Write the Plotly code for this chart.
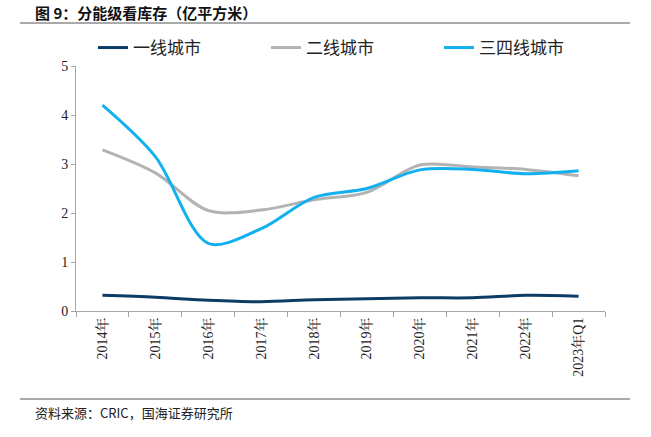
import plotly.graph_objects as go

categories = ["2014年", "2015年", "2016年", "2017年", "2018年", "2019年", "2020年", "2021年", "2022年", "2023年Q1"]
tier1 = [0.32, 0.28, 0.22, 0.19, 0.23, 0.25, 0.27, 0.27, 0.32, 0.30]
tier2 = [3.29, 2.82, 2.05, 2.06, 2.27, 2.42, 2.98, 2.94, 2.89, 2.76]
tier34 = [4.20, 3.15, 1.38, 1.68, 2.32, 2.50, 2.88, 2.89, 2.80, 2.86]
names = ["一线城市", "二线城市", "三四线城市"]
colors = ["#0b3c66", "#b3b3b3", "#12b0ef"]

W, H = 651, 437
# plot area in page pixels
L, R, T, B = 76, 605, 66, 311
PT = 20  # top of paper area

def px_x(p):
    return (p - L) / (R - L)

def px_y(p):
    return (B - p) / (B - PT)

fig = go.Figure()
for nm, vals, c in zip(names, [tier1, tier2, tier34], colors):
    fig.add_trace(go.Scatter(x=categories, y=vals, name=nm, mode="lines",
                             line=dict(color=c, width=3, shape="spline", smoothing=0.9)))

cjk = "Noto Sans CJK SC"
serif = "Liberation Serif, Noto Serif CJK SC, Noto Sans CJK SC"

fig.update_layout(
    width=W, height=H,
    margin=dict(l=L, r=W - R, t=PT, b=H - B, pad=0, autoexpand=False),
    plot_bgcolor="white", paper_bgcolor="white",
    showlegend=True,
    legend=dict(orientation="h", xref="paper", yref="paper",
                x=px_x(93), y=px_y(30), xanchor="left", yanchor="top",
                font=dict(family=cjk, size=17, color="#222"),
                entrywidth=128, entrywidthmode="pixels", itemwidth=30,
                bgcolor="rgba(0,0,0,0)"),
    xaxis=dict(type="category", showline=True, linecolor="#a6a6a6", linewidth=1,
               ticks="outside", ticklen=5, tickcolor="#a6a6a6", tickson="boundaries",
               tickangle=-90, tickfont=dict(family=serif, size=14, color="#222"),
               showgrid=False, zeroline=False, range=[-0.5, 9.5]),
    yaxis=dict(range=[0, 5], dtick=1, showline=True, linecolor="#a6a6a6", linewidth=1,
               ticks="outside", ticklen=4, tickcolor="#a6a6a6",
               domain=[0, (B - T) / (B - PT)],
               tickfont=dict(family=serif, size=14, color="#222"),
               showgrid=False, zeroline=False),
)

fig.add_shape(type="line", xref="paper", yref="paper",
              x0=px_x(20), x1=px_x(630), y0=px_y(23), y1=px_y(23),
              line=dict(color="#555", width=1))
fig.add_shape(type="line", xref="paper", yref="paper",
              x0=px_x(20), x1=px_x(630), y0=px_y(399), y1=px_y(399),
              line=dict(color="#555", width=1))

fig.add_annotation(text="<b>图 9：分能级看库存（亿平方米）</b>", xref="paper", yref="paper",
                   x=px_x(33), y=px_y(12.5), xanchor="left", yanchor="middle",
                   showarrow=False, font=dict(family=cjk, size=15, color="#111"))
fig.add_annotation(text="资料来源：CRIC，国海证券研究所", xref="paper", yref="paper",
                   x=px_x(33), y=px_y(412), xanchor="left", yanchor="middle",
                   showarrow=False, font=dict(family=cjk, size=13, color="#222"))

fig.write_html("out.html", config={"displayModeBar": False},
               post_script="document.body.style.margin='0';document.body.style.overflow='hidden';")
